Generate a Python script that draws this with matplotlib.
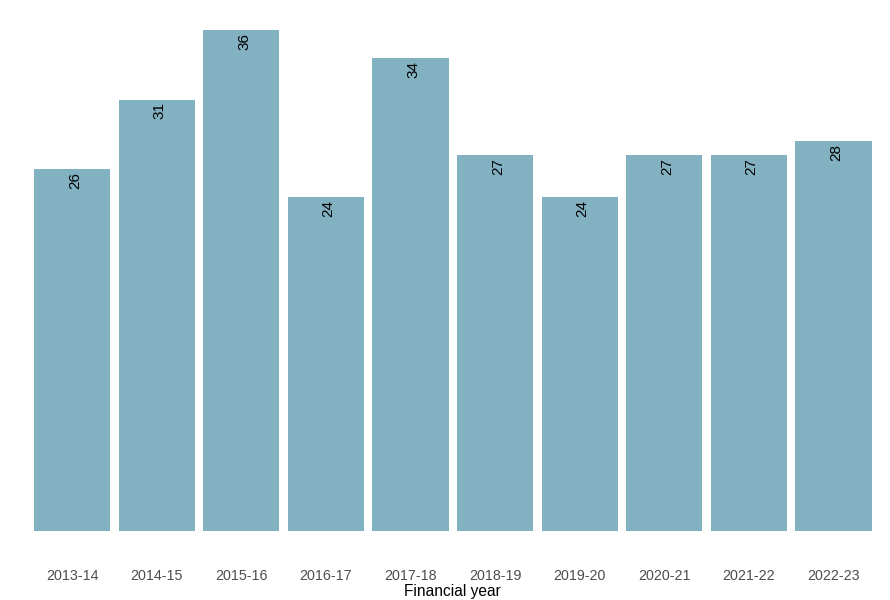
import matplotlib
matplotlib.use("Agg")
import matplotlib.pyplot as plt

years = ["2013-14", "2014-15", "2015-16", "2016-17", "2017-18",
         "2018-19", "2019-20", "2020-21", "2021-22", "2022-23"]
values = [26, 31, 36, 24, 34, 27, 24, 27, 27, 28]

plt.rcParams['font.family'] = ['Liberation Sans', 'DejaVu Sans']

fig = plt.figure(figsize=(8.9, 6.0), dpi=100)
ax = fig.add_axes([25.5/890, 69/600, (880-25.5)/890, (531-5)/600])
x = list(range(len(years)))
ax.bar(x, values, width=0.9, color="#82B1C1")
for xi, v in zip(x, values):
    ax.annotate(str(v), (xi, v), xytext=(2, -2), textcoords="offset points",
                rotation=90, ha="center", va="top", fontsize=11, color="black")
ax.set_xlim(-0.55, 9.55)
ax.set_ylim(0, 37.8)
ax.set_xticks(x)
ax.set_xticklabels(years, fontsize=10.3, color="#4D4D4D")
ax.tick_params(axis="x", length=0, pad=27)
ax.set_yticks([])
for s in ax.spines.values():
    s.set_visible(False)
ax.set_xlabel("Financial year", fontsize=11.2, color="black", labelpad=1)
fig.savefig("out.png", dpi=100)
